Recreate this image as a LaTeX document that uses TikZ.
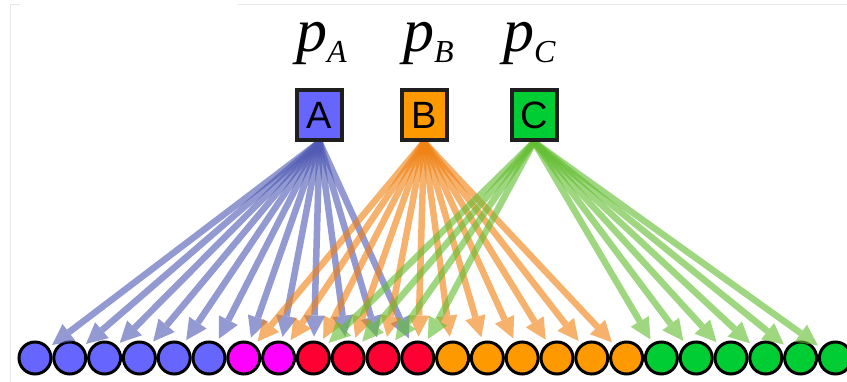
\documentclass[tikz,border=0pt]{standalone}
\usepackage{fontspec}
\setmainfont{Liberation Serif}
\newfontfamily\boxfont{Liberation Sans}
\usetikzlibrary{arrows.meta}
\definecolor{cblue}{HTML}{6666FF}
\definecolor{cmag}{HTML}{FF00FF}
\definecolor{cred}{HTML}{FF0033}
\definecolor{corange}{HTML}{FF9900}
\definecolor{cgreen}{HTML}{00CC33}
\definecolor{ablue}{RGB}{80,90,180}
\definecolor{aorange}{RGB}{240,130,20}
\definecolor{agreen}{RGB}{100,190,50}
\definecolor{framegray}{RGB}{232,232,232}
\begin{document}
\begin{tikzpicture}[x=1pt,y=-1pt,
  leaf/.style={circle,draw=black,line width=3pt,minimum size=32pt,inner sep=0pt},
  src/.style={draw=black!88,line width=4pt,minimum width=45pt,minimum height=50pt,inner sep=0pt,
    font=\boxfont\fontsize{38}{38}\selectfont},
  conn/.style={line width=6.5pt,-{Triangle[length=21pt,width=21pt,line width=0pt]},shorten >=4pt},
  plabel/.style={anchor=base west,inner sep=0pt,font=\fontsize{62}{62}\selectfont\itshape}]
\useasboundingbox (0,0) rectangle (847,382);
% faint frame
\draw[framegray,line width=1pt] (20,5) -- (10,5) -- (10,382);
\draw[framegray,line width=1pt] (238,5) -- (847,5);
\path (319.5,115) coordinate (Apos) (424,115) coordinate (Bpos) (534,115) coordinate (Cpos);
% leaves
\foreach \i/\c in {1/cblue,2/cblue,3/cblue,4/cblue,5/cblue,6/cblue,7/cmag,8/cmag,
  9/cred,10/cred,11/cred,12/cred,13/corange,14/corange,15/corange,16/corange,17/corange,18/corange,
  19/cgreen,20/cgreen,21/cgreen,22/cgreen,23/cgreen,24/cgreen}
  \node[leaf,fill=\c] (n\i) at ({35+(\i-1)*34.8},358) {};
\node[src,fill=cblue] (A) at (Apos) {A};
\node[src,fill=corange] (B) at (Bpos) {B};
\node[src,fill=cgreen] (C) at (Cpos) {C};
% connectors
\foreach \i in {1,...,12} {\begin{scope}[transparency group,opacity=0.62]\draw[conn,ablue] (A.south) -- (n\i);\end{scope}}
\foreach \i in {7,...,18} {\begin{scope}[transparency group,opacity=0.62]\draw[conn,aorange] (B.south) -- (n\i);\end{scope}}
\foreach \i in {9,10,11,12,19,20,21,22,23,24} {\begin{scope}[transparency group,opacity=0.62]\draw[conn,agreen] (C.south) -- (n\i);\end{scope}}
% boxes on top of the connector starts
\node[src,fill=cblue] at (Apos) {A};
\node[src,fill=corange] at (Bpos) {B};
\node[src,fill=cgreen] at (Cpos) {C};
% labels
\node[plabel] (pA) at (296,52) {p\raisebox{-11pt}{\fontsize{32}{32}\selectfont A}};
\node[plabel] (pB) at (403,52) {p\raisebox{-11pt}{\fontsize{32}{32}\selectfont B}};
\node[plabel] (pC) at (503,52) {p\raisebox{-11pt}{\fontsize{32}{32}\selectfont C}};
\end{tikzpicture}
\end{document}
